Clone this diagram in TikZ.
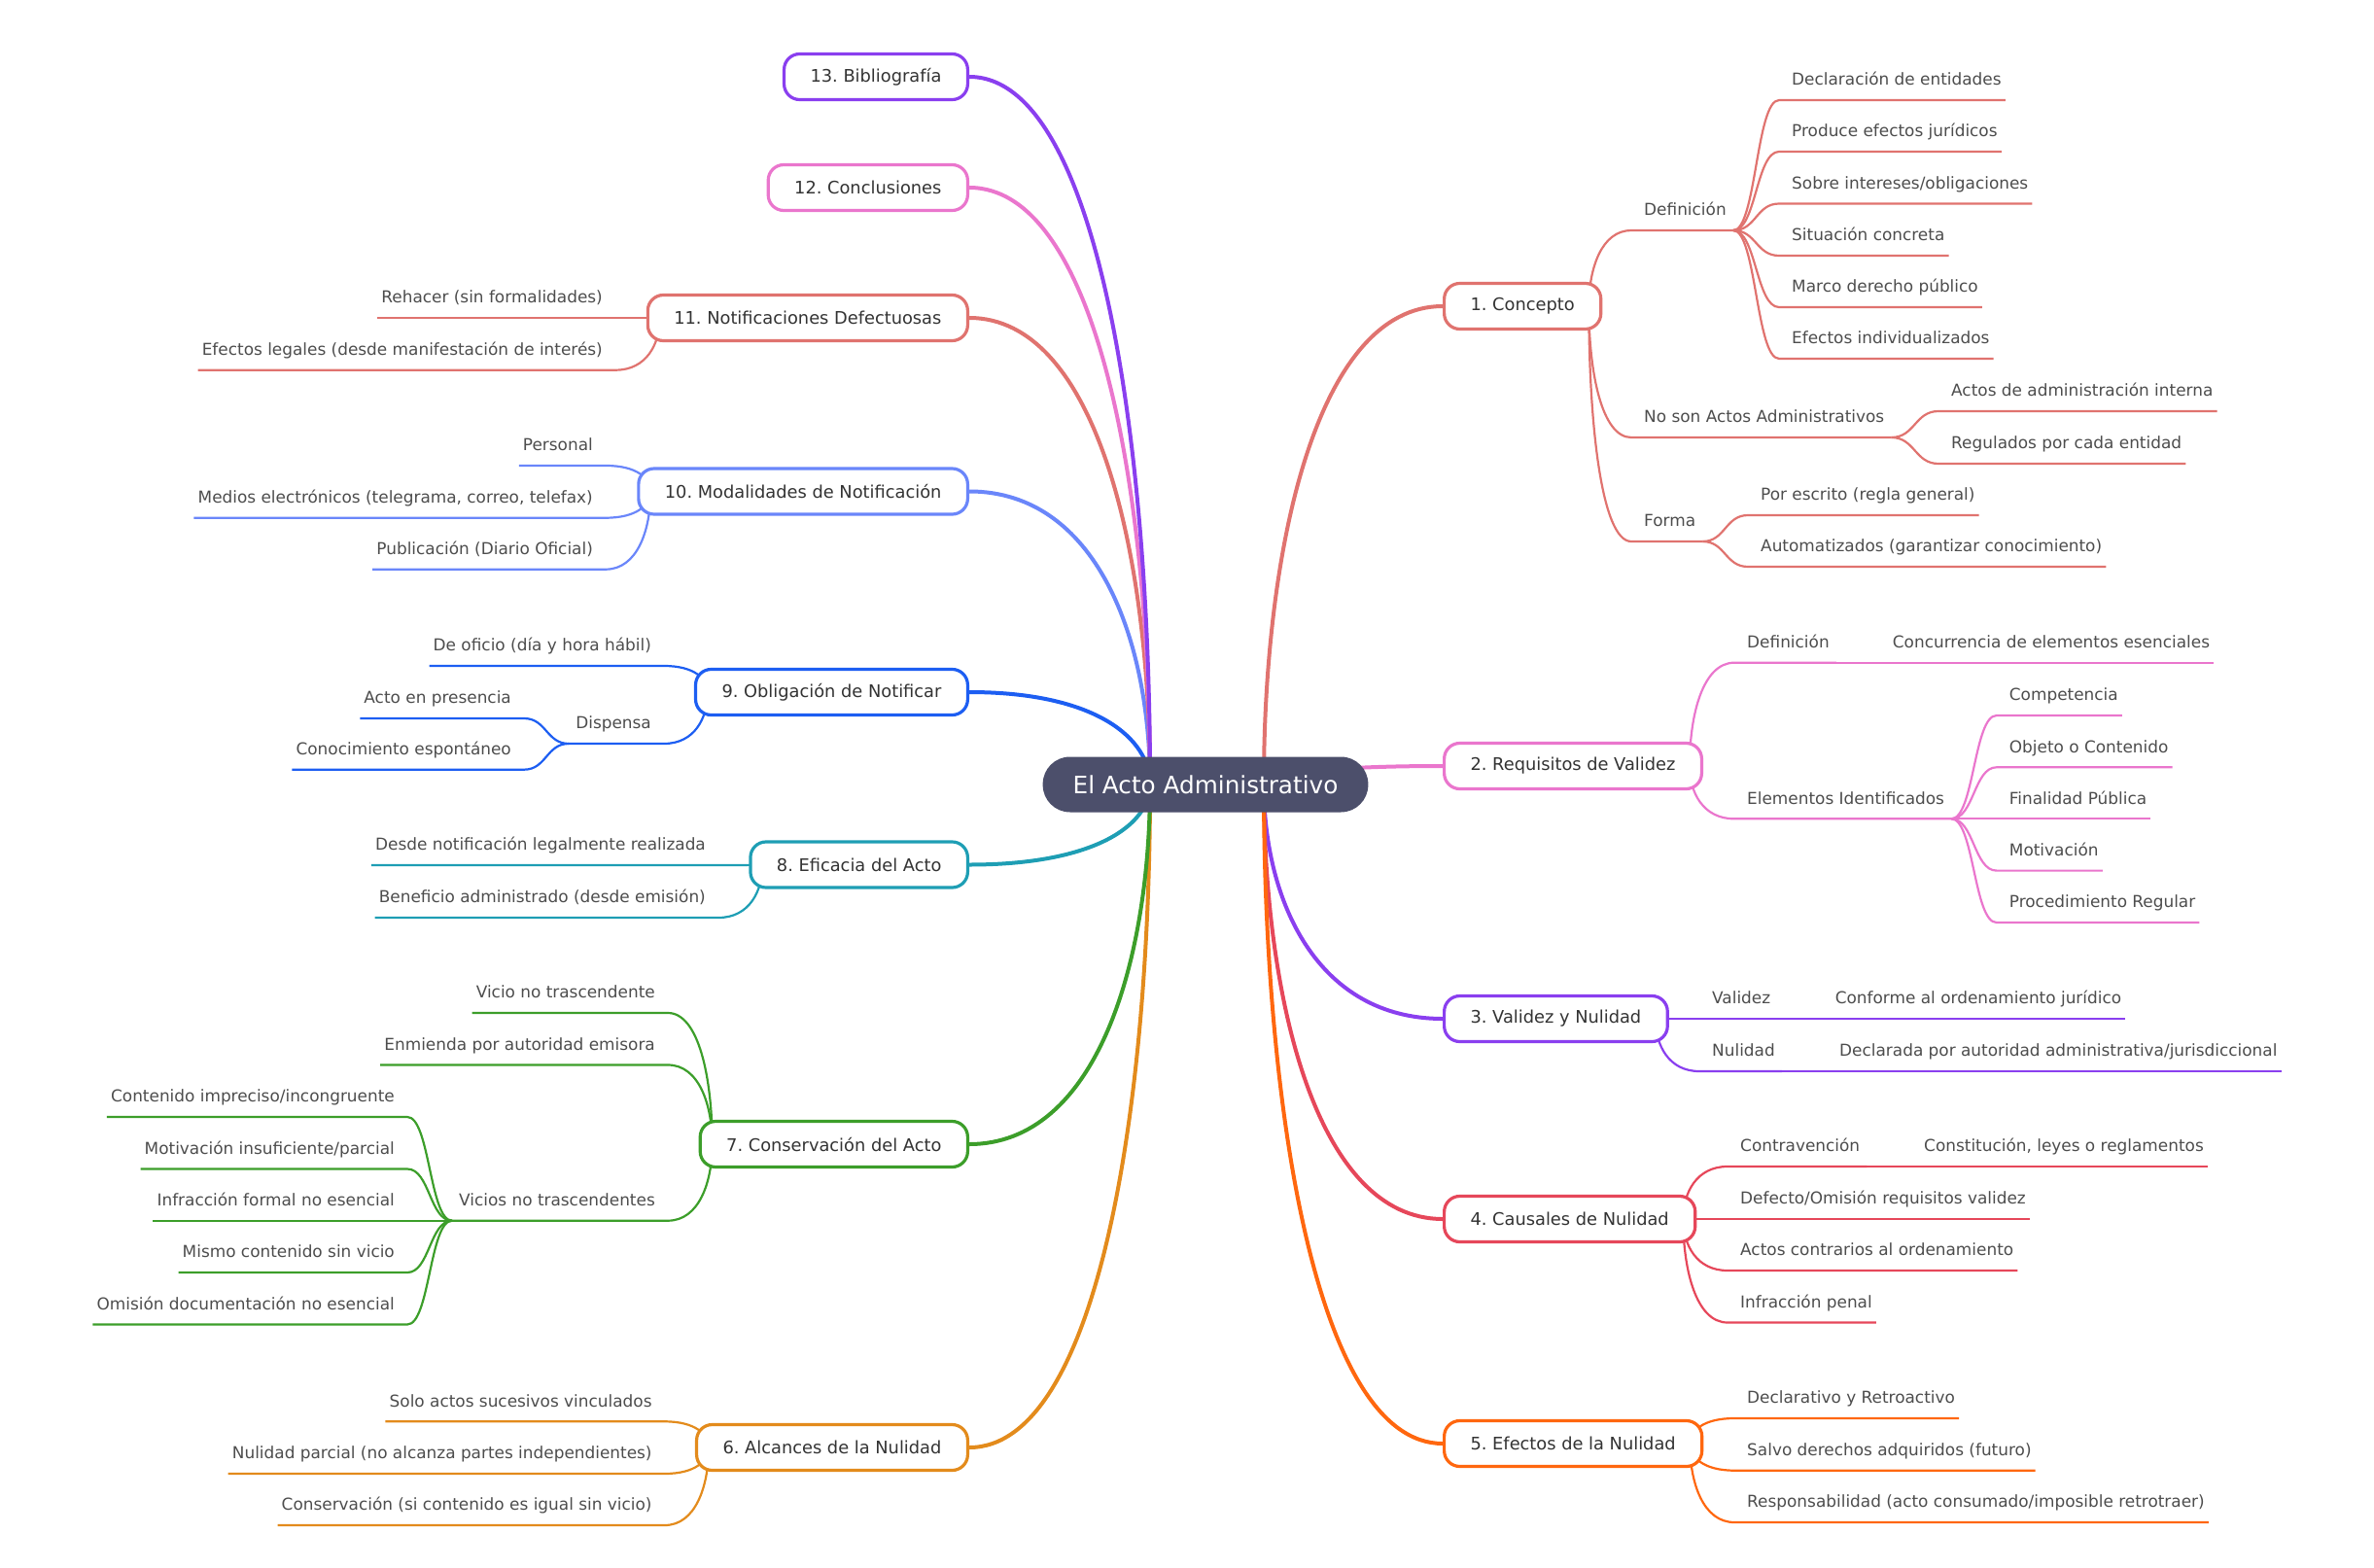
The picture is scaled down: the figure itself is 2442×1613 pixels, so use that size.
\documentclass[tikz,border=0pt]{standalone}
\usepackage{fontspec}
\setmainfont{DejaVu Sans}
\usetikzlibrary{calc}
\pgfdeclarelayer{back}
\pgfsetlayers{back,main}
\frenchspacing

\definecolor{rootc}{HTML}{4C4F6B}
\definecolor{txt}{HTML}{4D4D4D}
\definecolor{txtb}{HTML}{333333}
\definecolor{cSal}{HTML}{E0736F}
\definecolor{cPink}{HTML}{EA76CD}
\definecolor{cPurp}{HTML}{8A3FEF}
\definecolor{cRed}{HTML}{E6475A}
\definecolor{cOra}{HTML}{FF670F}
\definecolor{cGold}{HTML}{E38B1C}
\definecolor{cGreen}{HTML}{3C9E2A}
\definecolor{cTeal}{HTML}{1E9EB4}
\definecolor{cBlue}{HTML}{1D5EF2}
\definecolor{cLblue}{HTML}{6A86FA}

\tikzset{
  rootbox/.style={fill=rootc, text=white, rounded corners=28pt, minimum height=57pt,
    inner xsep=31pt, font=\fontsize{24.7}{28}\selectfont},
  topic/.style={draw=#1, fill=white, line width=3.2pt, rounded corners=16pt,
    minimum height=47pt, inner xsep=27pt, text=txtb, font=\fontsize{17.8}{21}\selectfont},
  leaf/.style={inner sep=0pt, text height=12.5pt, text depth=15pt, text=txt,
    font=\fontsize{16.9}{20}\selectfont},
  leafr/.style={leaf, anchor=south west},
  leafl/.style={leaf, anchor=south east},
  trunk/.style={draw=#1, line width=4pt},
  twig/.style={draw=#1, line width=2.2pt},
  % vertical out of the parent, level into the child
  vh/.style={to path={let \p1=(\tikztostart), \p2=(\tikztotarget) in
    .. controls (\x1,{\y1+0.5*(\y2-\y1)}) and ({\x2+0.7*(\x1-\x2)},\y2) .. (\tikztotarget)}},
  % s-curve between two underlines
  sc/.style={to path={let \p1=(\tikztostart), \p2=(\tikztotarget) in
    .. controls ({0.5*(\x1+\x2)},\y1) and ({0.5*(\x1+\x2)},\y2) .. (\tikztotarget)}},
}

\begin{document}
\begin{tikzpicture}[x=1pt, y=-1pt]
    \useasboundingbox (0,0) rectangle (2442,1613);

    % central topic
    \node[rootbox] (root) at (1240,807) {El Acto Administrativo};

    % right topics
    \node[topic=cSal, anchor=west] (b1) at (1484,315) {1. Concepto};
    \node[topic=cPink, anchor=west] (b2) at (1484,788) {2. Requisitos de Validez};
    \node[topic=cPurp, anchor=west] (b3) at (1484,1048) {3. Validez y Nulidad};
    \node[topic=cRed, anchor=west] (b4) at (1484,1254) {4. Causales de Nulidad};
    \node[topic=cOra, anchor=west] (b5) at (1484,1485) {5. Efectos de la Nulidad};

    % left topics
    \node[topic=cGold, anchor=east] (b6) at (997,1489) {6. Alcances de la Nulidad};
    \node[topic=cGreen, anchor=east] (b7) at (997,1177) {7. Conservación del Acto};
    \node[topic=cTeal, anchor=east] (b8) at (997,889.5) {8. Eficacia del Acto};
    \node[topic=cBlue, anchor=east] (b9) at (997,712) {9. Obligación de Notificar};
    \node[topic=cLblue, anchor=east] (b10) at (997,505.5) {10. Modalidades de Notificación};
    \node[topic=cSal, anchor=east] (b11) at (997,327) {11. Notificaciones Defectuosas};
    \node[topic=cPink, anchor=east] (b12) at (997,193) {12. Conclusiones};
    \node[topic=cPurp, anchor=east] (b13) at (997,79) {13. Bibliografía};

    % 1. Concepto
    \node[leafr] (b1a) at (1691,237) {Definición};
    \node[leafr] (b1a1) at (1843,103) {Declaración de entidades};
    \node[leafr] (b1a2) at (1843,156) {Produce efectos jurídicos};
    \node[leafr] (b1a3) at (1843,209.5) {Sobre intereses/obligaciones};
    \node[leafr] (b1a4) at (1843,263) {Situación concreta};
    \node[leafr] (b1a5) at (1843,316) {Marco derecho público};
    \node[leafr] (b1a6) at (1843,369) {Efectos individualizados};
    \node[leafr] (b1b) at (1691,450) {No son Actos Administrativos};
    \node[leafr] (b1b1) at (2007,423) {Actos de administración interna};
    \node[leafr] (b1b2) at (2007,477) {Regulados por cada entidad};
    \node[leafr] (b1c) at (1691,557) {Forma};
    \node[leafr] (b1c1) at (1811,530) {Por escrito (regla general)};
    \node[leafr] (b1c2) at (1811,583) {Automatizados (garantizar conocimiento)};

    % 2. Requisitos de Validez
    \node[leafr] (b2a) at (1797,681.7) {Definición};
    \node[leafr] (b2a1) at (1946.7,681.7) {Concurrencia de elementos esenciales};
    \node[leafr] (b2b) at (1797,842.3) {Elementos Identificados};
    \node[leafr] (b2b1) at (2066.7,736) {Competencia};
    \node[leafr] (b2b2) at (2066.7,789.3) {Objeto o Contenido};
    \node[leafr] (b2b3) at (2066.7,842.3) {Finalidad Pública};
    \node[leafr] (b2b4) at (2066.7,895.6) {Motivación};
    \node[leafr] (b2b5) at (2066.7,949) {Procedimiento Regular};

    % 3. Validez y Nulidad
    \node[leafr] (b3a) at (1761,1048) {Validez};
    \node[leafr] (b3a1) at (1887.6,1048) {Conforme al ordenamiento jurídico};
    \node[leafr] (b3b) at (1761,1102) {Nulidad};
    \node[leafr] (b3b1) at (1892,1102) {Declarada por autoridad administrativa/jurisdiccional};

    % 4. Causales de Nulidad
    \node[leafr] (b4a) at (1790,1200) {Contravención};
    \node[leafr] (b4a1) at (1979,1200) {Constitución, leyes o reglamentos};
    \node[leafr] (b4b) at (1790,1254) {Defecto/Omisión requisitos validez};
    \node[leafr] (b4c) at (1790,1307) {Actos contrarios al ordenamiento};
    \node[leafr] (b4d) at (1790,1360.5) {Infracción penal};

    % 5. Efectos de la Nulidad
    \node[leafr] (b5a) at (1797,1459) {Declarativo y Retroactivo};
    \node[leafr] (b5b) at (1797,1512.7) {Salvo derechos adquiridos (futuro)};
    \node[leafr] (b5c) at (1797,1566) {Responsabilidad (acto consumado/imposible retrotraer)};

    % 6. Alcances de la Nulidad
    \node[leafl] (b6a) at (670.7,1462.3) {Solo actos sucesivos vinculados};
    \node[leafl] (b6b) at (670.7,1516) {Nulidad parcial (no alcanza partes independientes)};
    \node[leafl] (b6c) at (670.7,1569) {Conservación (si contenido es igual sin vicio)};

    % 7. Conservación del Acto
    \node[leafl] (b7a) at (674,1042) {Vicio no trascendente};
    \node[leafl] (b7b) at (674,1095.5) {Enmienda por autoridad emisora};
    \node[leafl] (b7c) at (674,1255.7) {Vicios no trascendentes};
    \node[leafl] (b7c1) at (406,1149) {Contenido impreciso/incongruente};
    \node[leafl] (b7c2) at (406,1202.5) {Motivación insuficiente/parcial};
    \node[leafl] (b7c3) at (406,1255.7) {Infracción formal no esencial};
    \node[leafl] (b7c4) at (406,1309) {Mismo contenido sin vicio};
    \node[leafl] (b7c5) at (406,1362.5) {Omisión documentación no esencial};

    % 8. Eficacia del Acto
    \node[leafl] (b8a) at (726,890) {Desde notificación legalmente realizada};
    \node[leafl] (b8b) at (726,944) {Beneficio administrado (desde emisión)};

    % 9. Obligación de Notificar
    \node[leafl] (b9a) at (670,685) {De oficio (día y hora hábil)};
    \node[leafl] (b9b) at (670,765) {Dispensa};
    \node[leafl] (b9b1) at (526,739) {Acto en presencia};
    \node[leafl] (b9b2) at (526,791.7) {Conocimiento espontáneo};

    % 10. Modalidades de Notificación
    \node[leafl] (b10a) at (610,479) {Personal};
    \node[leafl] (b10b) at (610,532.7) {Medios electrónicos (telegrama, correo, telefax)};
    \node[leafl] (b10c) at (610,585.7) {Publicación (Diario Oficial)};

    % 11. Notificaciones Defectuosas
    \node[leafl] (b11a) at (620,327) {Rehacer (sin formalidades)};
    \node[leafl] (b11b) at (620,380.7) {Efectos legales (desde manifestación de interés)};

    \begin{pgfonlayer}{back}
    % main branches
    \draw[trunk=cSal] ([xshift=60pt]root.center) to[vh] (b1.west);
    \draw[trunk=cPink] ([xshift=60pt]root.center) to[vh] (b2.west);
    \draw[trunk=cPurp] ([xshift=60pt]root.center) to[vh] (b3.west);
    \draw[trunk=cRed] ([xshift=60pt]root.center) to[vh] (b4.west);
    \draw[trunk=cOra] ([xshift=60pt]root.center) to[vh] (b5.west);
    \draw[trunk=cGold] ([xshift=-57pt]root.center) to[vh] (b6.east);
    \draw[trunk=cGreen] ([xshift=-57pt]root.center) to[vh] (b7.east);
    \draw[trunk=cTeal] ([xshift=-57pt]root.center) to[vh] (b8.east);
    \draw[trunk=cBlue] ([xshift=-57pt]root.center) to[vh] (b9.east);
    \draw[trunk=cLblue] ([xshift=-57pt]root.center) to[vh] (b10.east);
    \draw[trunk=cSal] ([xshift=-57pt]root.center) to[vh] (b11.east);
    \draw[trunk=cPink] ([xshift=-57pt]root.center) to[vh] (b12.east);
    \draw[trunk=cPurp] ([xshift=-57pt]root.center) to[vh] (b13.east);

    % 1. Concepto
    \draw[twig=cSal] ([xshift=-14pt]b1.east) to[vh] ([xshift=-13pt]b1a.south west) -- ([xshift=7pt]b1a.south east);
    \draw[twig=cSal] ([xshift=7pt]b1a.south east) to[sc] ([xshift=-13pt]b1a1.south west) -- ([xshift=4pt]b1a1.south east);
    \draw[twig=cSal] ([xshift=7pt]b1a.south east) to[sc] ([xshift=-13pt]b1a2.south west) -- ([xshift=4pt]b1a2.south east);
    \draw[twig=cSal] ([xshift=7pt]b1a.south east) to[sc] ([xshift=-13pt]b1a3.south west) -- ([xshift=4pt]b1a3.south east);
    \draw[twig=cSal] ([xshift=7pt]b1a.south east) to[sc] ([xshift=-13pt]b1a4.south west) -- ([xshift=4pt]b1a4.south east);
    \draw[twig=cSal] ([xshift=7pt]b1a.south east) to[sc] ([xshift=-13pt]b1a5.south west) -- ([xshift=4pt]b1a5.south east);
    \draw[twig=cSal] ([xshift=7pt]b1a.south east) to[sc] ([xshift=-13pt]b1a6.south west) -- ([xshift=4pt]b1a6.south east);
    \draw[twig=cSal] ([xshift=-14pt]b1.east) to[vh] ([xshift=-13pt]b1b.south west) -- ([xshift=7pt]b1b.south east);
    \draw[twig=cSal] ([xshift=7pt]b1b.south east) to[sc] ([xshift=-13pt]b1b1.south west) -- ([xshift=4pt]b1b1.south east);
    \draw[twig=cSal] ([xshift=7pt]b1b.south east) to[sc] ([xshift=-13pt]b1b2.south west) -- ([xshift=4pt]b1b2.south east);
    \draw[twig=cSal] ([xshift=-14pt]b1.east) to[vh] ([xshift=-13pt]b1c.south west) -- ([xshift=7pt]b1c.south east);
    \draw[twig=cSal] ([xshift=7pt]b1c.south east) to[sc] ([xshift=-13pt]b1c1.south west) -- ([xshift=4pt]b1c1.south east);
    \draw[twig=cSal] ([xshift=7pt]b1c.south east) to[sc] ([xshift=-13pt]b1c2.south west) -- ([xshift=4pt]b1c2.south east);

    % 2. Requisitos de Validez
    \draw[twig=cPink] ([xshift=-14pt]b2.east) to[vh] ([xshift=-13pt]b2a.south west) -- ([xshift=7pt]b2a.south east);
    \draw[twig=cPink] ([xshift=7pt]b2a.south east) to[sc] ([xshift=-13pt]b2a1.south west) -- ([xshift=4pt]b2a1.south east);
    \draw[twig=cPink] ([xshift=-14pt]b2.east) to[vh] ([xshift=-13pt]b2b.south west) -- ([xshift=7pt]b2b.south east);
    \draw[twig=cPink] ([xshift=7pt]b2b.south east) to[sc] ([xshift=-13pt]b2b1.south west) -- ([xshift=4pt]b2b1.south east);
    \draw[twig=cPink] ([xshift=7pt]b2b.south east) to[sc] ([xshift=-13pt]b2b2.south west) -- ([xshift=4pt]b2b2.south east);
    \draw[twig=cPink] ([xshift=7pt]b2b.south east) to[sc] ([xshift=-13pt]b2b3.south west) -- ([xshift=4pt]b2b3.south east);
    \draw[twig=cPink] ([xshift=7pt]b2b.south east) to[sc] ([xshift=-13pt]b2b4.south west) -- ([xshift=4pt]b2b4.south east);
    \draw[twig=cPink] ([xshift=7pt]b2b.south east) to[sc] ([xshift=-13pt]b2b5.south west) -- ([xshift=4pt]b2b5.south east);

    % 3. Validez y Nulidad
    \draw[twig=cPurp] ([xshift=-14pt]b3.east) to[vh] ([xshift=-13pt]b3a.south west) -- ([xshift=7pt]b3a.south east);
    \draw[twig=cPurp] ([xshift=7pt]b3a.south east) to[sc] ([xshift=-13pt]b3a1.south west) -- ([xshift=4pt]b3a1.south east);
    \draw[twig=cPurp] ([xshift=-14pt]b3.east) to[vh] ([xshift=-13pt]b3b.south west) -- ([xshift=7pt]b3b.south east);
    \draw[twig=cPurp] ([xshift=7pt]b3b.south east) to[sc] ([xshift=-13pt]b3b1.south west) -- ([xshift=4pt]b3b1.south east);

    % 4. Causales de Nulidad
    \draw[twig=cRed] ([xshift=-14pt]b4.east) to[vh] ([xshift=-13pt]b4a.south west) -- ([xshift=7pt]b4a.south east);
    \draw[twig=cRed] ([xshift=7pt]b4a.south east) to[sc] ([xshift=-13pt]b4a1.south west) -- ([xshift=4pt]b4a1.south east);
    \draw[twig=cRed] ([xshift=-14pt]b4.east) to[vh] ([xshift=-13pt]b4b.south west) -- ([xshift=4pt]b4b.south east);
    \draw[twig=cRed] ([xshift=-14pt]b4.east) to[vh] ([xshift=-13pt]b4c.south west) -- ([xshift=4pt]b4c.south east);
    \draw[twig=cRed] ([xshift=-14pt]b4.east) to[vh] ([xshift=-13pt]b4d.south west) -- ([xshift=4pt]b4d.south east);

    % 5. Efectos de la Nulidad
    \draw[twig=cOra] ([xshift=-14pt]b5.east) to[vh] ([xshift=-13pt]b5a.south west) -- ([xshift=4pt]b5a.south east);
    \draw[twig=cOra] ([xshift=-14pt]b5.east) to[vh] ([xshift=-13pt]b5b.south west) -- ([xshift=4pt]b5b.south east);
    \draw[twig=cOra] ([xshift=-14pt]b5.east) to[vh] ([xshift=-13pt]b5c.south west) -- ([xshift=4pt]b5c.south east);

    % 6. Alcances de la Nulidad
    \draw[twig=cGold] ([xshift=14pt]b6.west) to[vh] ([xshift=13pt]b6a.south east) -- ([xshift=-4pt]b6a.south west);
    \draw[twig=cGold] ([xshift=14pt]b6.west) to[vh] ([xshift=13pt]b6b.south east) -- ([xshift=-4pt]b6b.south west);
    \draw[twig=cGold] ([xshift=14pt]b6.west) to[vh] ([xshift=13pt]b6c.south east) -- ([xshift=-4pt]b6c.south west);

    % 7. Conservación del Acto
    \draw[twig=cGreen] ([xshift=14pt]b7.west) to[vh] ([xshift=13pt]b7a.south east) -- ([xshift=-4pt]b7a.south west);
    \draw[twig=cGreen] ([xshift=14pt]b7.west) to[vh] ([xshift=13pt]b7b.south east) -- ([xshift=-4pt]b7b.south west);
    \draw[twig=cGreen] ([xshift=14pt]b7.west) to[vh] ([xshift=13pt]b7c.south east) -- ([xshift=-7pt]b7c.south west);
    \draw[twig=cGreen] ([xshift=-7pt]b7c.south west) to[sc] ([xshift=13pt]b7c1.south east) -- ([xshift=-4pt]b7c1.south west);
    \draw[twig=cGreen] ([xshift=-7pt]b7c.south west) to[sc] ([xshift=13pt]b7c2.south east) -- ([xshift=-4pt]b7c2.south west);
    \draw[twig=cGreen] ([xshift=-7pt]b7c.south west) to[sc] ([xshift=13pt]b7c3.south east) -- ([xshift=-4pt]b7c3.south west);
    \draw[twig=cGreen] ([xshift=-7pt]b7c.south west) to[sc] ([xshift=13pt]b7c4.south east) -- ([xshift=-4pt]b7c4.south west);
    \draw[twig=cGreen] ([xshift=-7pt]b7c.south west) to[sc] ([xshift=13pt]b7c5.south east) -- ([xshift=-4pt]b7c5.south west);

    % 8. Eficacia del Acto
    \draw[twig=cTeal] ([xshift=14pt]b8.west) to[vh] ([xshift=13pt]b8a.south east) -- ([xshift=-4pt]b8a.south west);
    \draw[twig=cTeal] ([xshift=14pt]b8.west) to[vh] ([xshift=13pt]b8b.south east) -- ([xshift=-4pt]b8b.south west);

    % 9. Obligación de Notificar
    \draw[twig=cBlue] ([xshift=14pt]b9.west) to[vh] ([xshift=13pt]b9a.south east) -- ([xshift=-4pt]b9a.south west);
    \draw[twig=cBlue] ([xshift=14pt]b9.west) to[vh] ([xshift=13pt]b9b.south east) -- ([xshift=-7pt]b9b.south west);
    \draw[twig=cBlue] ([xshift=-7pt]b9b.south west) to[sc] ([xshift=13pt]b9b1.south east) -- ([xshift=-4pt]b9b1.south west);
    \draw[twig=cBlue] ([xshift=-7pt]b9b.south west) to[sc] ([xshift=13pt]b9b2.south east) -- ([xshift=-4pt]b9b2.south west);

    % 10. Modalidades de Notificación
    \draw[twig=cLblue] ([xshift=14pt]b10.west) to[vh] ([xshift=13pt]b10a.south east) -- ([xshift=-4pt]b10a.south west);
    \draw[twig=cLblue] ([xshift=14pt]b10.west) to[vh] ([xshift=13pt]b10b.south east) -- ([xshift=-4pt]b10b.south west);
    \draw[twig=cLblue] ([xshift=14pt]b10.west) to[vh] ([xshift=13pt]b10c.south east) -- ([xshift=-4pt]b10c.south west);

    % 11. Notificaciones Defectuosas
    \draw[twig=cSal] ([xshift=14pt]b11.west) to[vh] ([xshift=13pt]b11a.south east) -- ([xshift=-4pt]b11a.south west);
    \draw[twig=cSal] ([xshift=14pt]b11.west) to[vh] ([xshift=13pt]b11b.south east) -- ([xshift=-4pt]b11b.south west);
    \end{pgfonlayer}
\end{tikzpicture}
\end{document}
